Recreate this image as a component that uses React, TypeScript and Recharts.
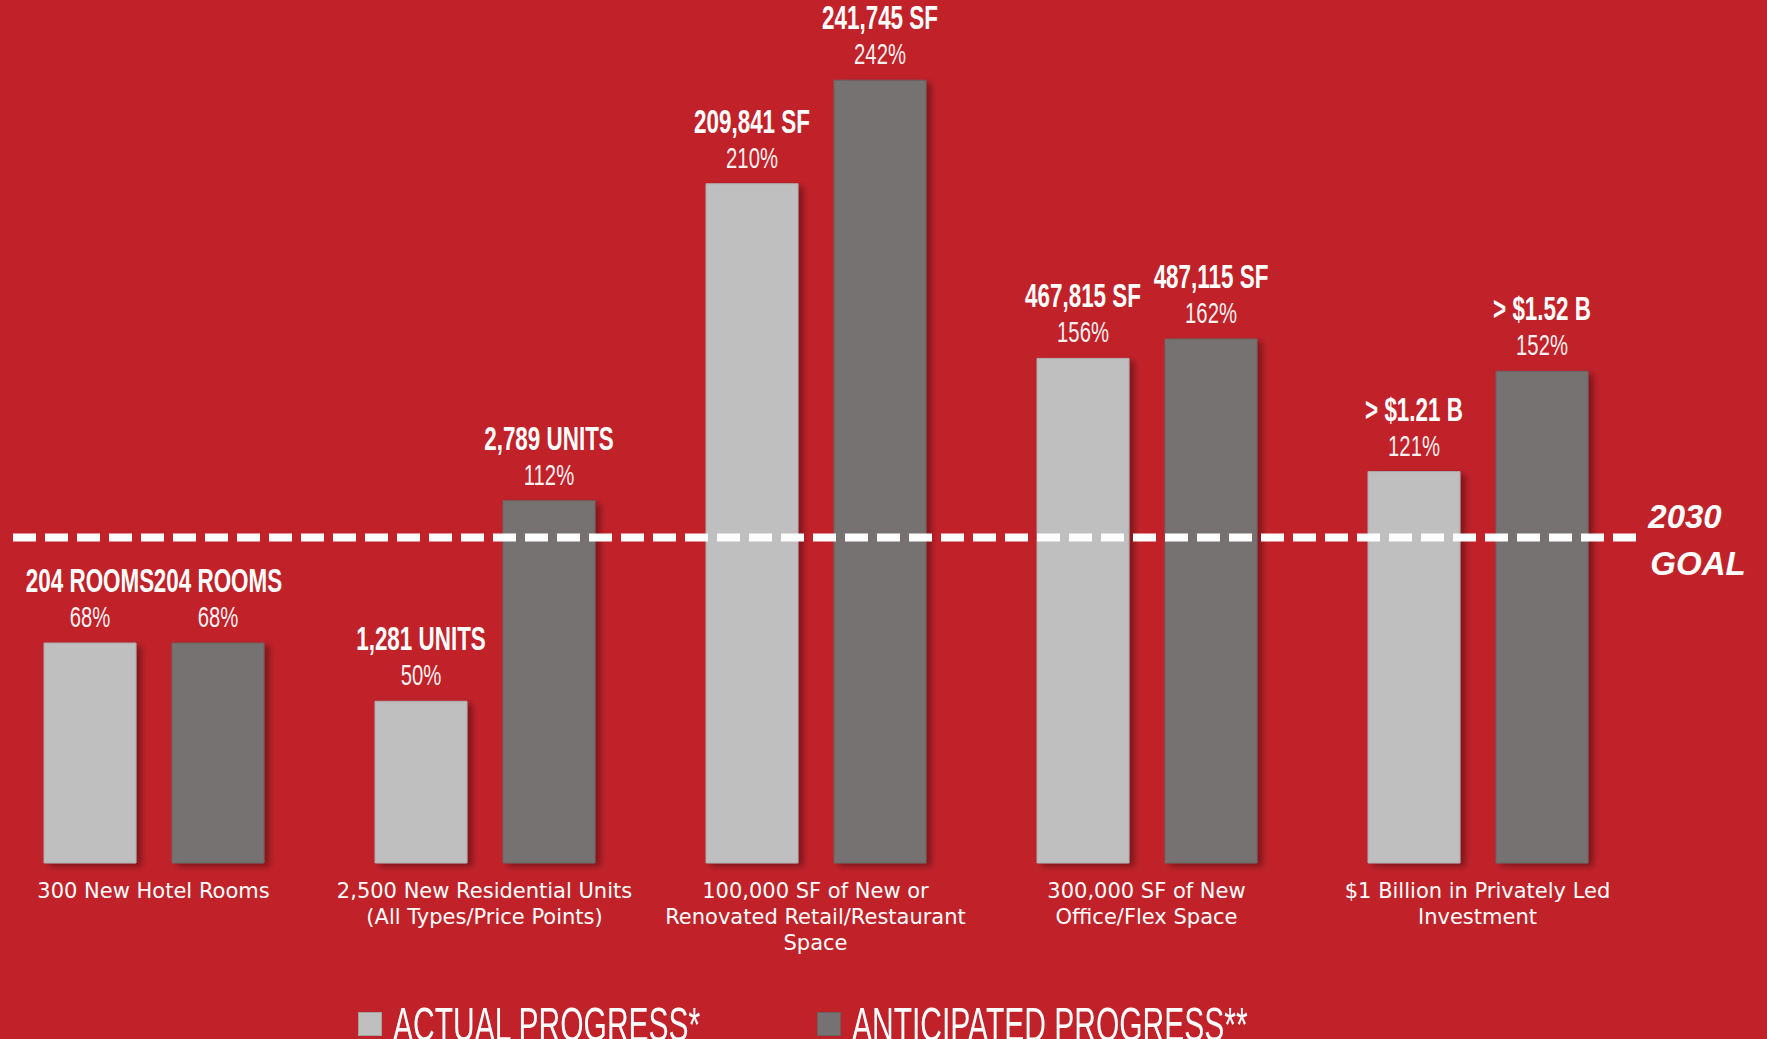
import { BarChart, Bar, XAxis, YAxis, ReferenceLine, LabelList, Legend } from "recharts";

const categories = [
  ["300 New Hotel Rooms"],
  ["2,500 New Residential Units", "(All Types/Price Points)"],
  ["100,000 SF of New or", "Renovated Retail/Restaurant", "Space"],
  ["300,000 SF of New", "Office/Flex Space"],
  ["$1 Billion in Privately Led", "Investment"],
];
const actualPct = [68, 50, 210, 156, 121];
const anticipatedPct = [68, 112, 242, 162, 152];
const actualLabels = ["204 ROOMS", "1,281 UNITS", "209,841 SF", "467,815 SF", "> $1.21 B"];
const anticipatedLabels = ["204 ROOMS", "2,789 UNITS", "241,745 SF", "487,115 SF", "> $1.52 B"];
const goalPct = 100;
const goalText = ["2030", "GOAL"];

const RED = "#c1222a";
const LIGHT = "#bfbfbf";
const DARK = "#767271";

const data = categories.map((lines, i) => ({
  name: lines.join("|"),
  actual: actualPct[i],
  anticipated: anticipatedPct[i],
  actualText: `${actualLabels[i]}|${actualPct[i]}%`,
  anticipatedText: `${anticipatedLabels[i]}|${anticipatedPct[i]}%`,
}));

const SANS = "'Liberation Sans', Arial, sans-serif";

// no condensed face installed, so squeeze Liberation Sans horizontally
function ValueLabel(props: any) {
  const { x, y, width, value } = props;
  const [big, pct] = String(value).split("|");
  const cx = x + width / 2;
  return (
    <g>
      <g transform={`translate(${cx},${y - 51}) scale(0.68,1)`}>
        <text x={0} y={0} textAnchor="middle" fill="#fff" fontFamily={SANS} fontWeight={700} fontSize={33}>
          {big}
        </text>
      </g>
      <g transform={`translate(${cx},${y - 16}) scale(0.7,1)`}>
        <text x={0} y={0} textAnchor="middle" fill="#fff" fillOpacity={0.95} fontFamily={SANS} fontSize={29}>
          {pct}
        </text>
      </g>
    </g>
  );
}

function CategoryTick(props: any) {
  const { x, y, payload } = props;
  const lines = String(payload.value).split("|");
  return (
    <text x={x} y={y} textAnchor="middle" fill="#fff" fontFamily="'DejaVu Sans', sans-serif" fontSize={21}>
      {lines.map((l, i) => (
        <tspan key={i} x={x} dy={i === 0 ? 35 : 26}>
          {l}
        </tspan>
      ))}
    </text>
  );
}

function GoalLine(props: any) {
  const { x1, x2, y1 } = props;
  return (
    <g>
      <line x1={x1 + 25} x2={x2 - 6} y1={y1 - 2} y2={y1 - 2} stroke="#fff" strokeWidth={8} strokeDasharray="23 9" />
      <text x={x2 + 42} y={y1 - 12} textAnchor="middle" fill="#fff" fontFamily={SANS} fontStyle="italic" fontWeight={700} fontSize={33}>
        {goalText[0]}
      </text>
      <text x={x2 + 55} y={y1 + 35} textAnchor="middle" fill="#fff" fontFamily={SANS} fontStyle="italic" fontWeight={700} fontSize={33}>
        {goalText[1]}
      </text>
    </g>
  );
}

function LegendContent(props: any) {
  const { payload = [] } = props;
  return (
    <div style={{ position: "relative", height: 40 }}>
      {payload.map((p: any, i: number) => (
        <div key={p.value} style={{ position: "absolute", left: i * 459, top: 0, display: "flex", alignItems: "flex-start" }}>
          <div style={{ width: 24, height: 24, marginTop: 11, background: p.color, boxShadow: "inset 0 0 0 1px rgba(0,0,0,0.15)" }} />
          <span
            style={{
              marginLeft: 11,
              color: "#fff",
              fontFamily: SANS,
              fontSize: 48,
              lineHeight: 1,
              whiteSpace: "nowrap",
              display: "inline-block",
              transform: "scaleX(0.625)",
              transformOrigin: "left top",
            }}
          >
            {p.value}
          </span>
        </div>
      ))}
    </div>
  );
}

export default function App() {
  return (
    <div style={{ position: "absolute", left: 0, top: 0, width: 1767, height: 1039, background: RED, overflow: "hidden" }}>
      <div style={{ position: "absolute", left: -12, top: 0 }}>
        <BarChart
          width={1780}
          height={1039}
          data={data}
          margin={{ top: 22, right: 125, left: 0, bottom: 76 }}
          barSize={92}
          barGap={36}
        >
          <defs>
            <filter id="barShadow" x="-20%" y="-5%" width="140%" height="115%">
              <feDropShadow dx={5} dy={3} stdDeviation={3} floodColor="#000" floodOpacity={0.35} />
            </filter>
          </defs>
          <XAxis
            dataKey="name"
            axisLine={false}
            tickLine={false}
            tickSize={0}
            tickMargin={0}
            height={100}
            interval={0}
            tick={<CategoryTick />}
          />
          <YAxis hide domain={[0, 260]} />
          <Bar dataKey="actual" name="ACTUAL PROGRESS*" fill={LIGHT} stroke="#adadad" strokeWidth={1} filter="url(#barShadow)" isAnimationActive={false}>
            <LabelList dataKey="actualText" content={<ValueLabel />} />
          </Bar>
          <Bar dataKey="anticipated" name="ANTICIPATED PROGRESS**" fill={DARK} stroke="#6a6665" strokeWidth={1} filter="url(#barShadow)" isAnimationActive={false}>
            <LabelList dataKey="anticipatedText" content={<ValueLabel />} />
          </Bar>
          <ReferenceLine y={goalPct} shape={<GoalLine />} ifOverflow="visible" />
          <Legend
            layout="horizontal"
            verticalAlign="middle"
            align="center"
            content={<LegendContent />}
            wrapperStyle={{ left: 370, top: 1001, width: 1000 }}
          />
        </BarChart>
      </div>
    </div>
  );
}
